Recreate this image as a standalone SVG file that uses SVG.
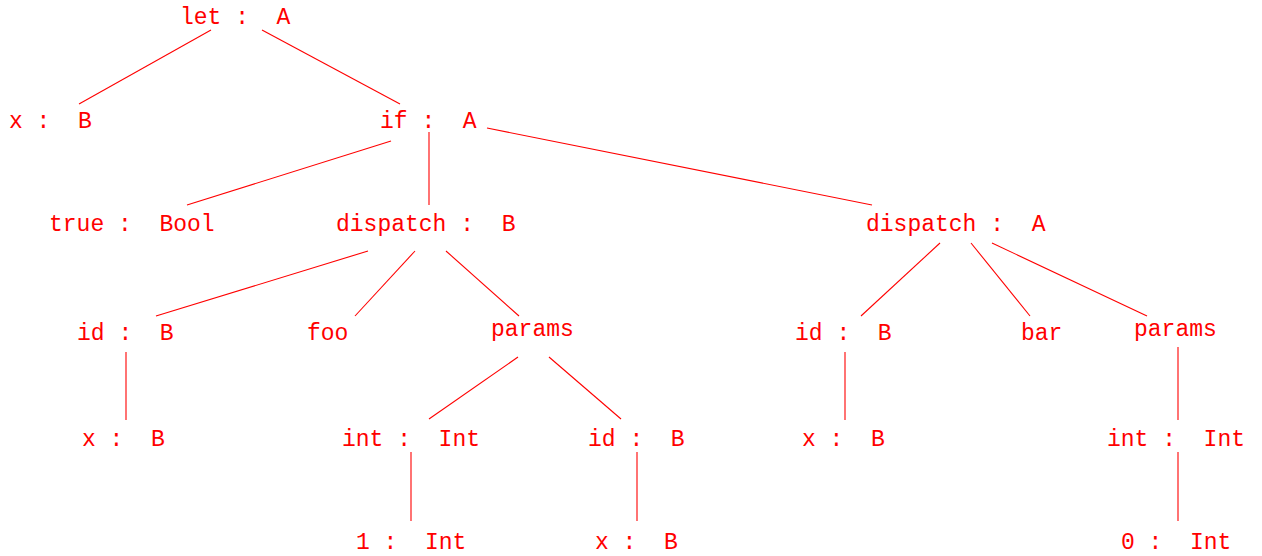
<svg xmlns="http://www.w3.org/2000/svg" width="1262" height="556" viewBox="0 0 1262 556">
<style>
text{font-family:"Liberation Mono","DejaVu Sans Mono",monospace;font-size:23px;fill:#ff0000;white-space:pre}
line{stroke:#ff0000;stroke-width:1.1}
</style>
<rect width="1262" height="556" fill="#ffffff"/>
<g id="connectors">
<line x1="211" y1="30" x2="79" y2="104"/>
<line x1="262" y1="30" x2="400" y2="104"/>
<line x1="391" y1="141" x2="187" y2="205"/>
<line x1="429" y1="132" x2="429" y2="205"/>
<line x1="487" y1="128" x2="872" y2="205"/>
<line x1="368" y1="251" x2="156" y2="316"/>
<line x1="415" y1="251" x2="355" y2="316"/>
<line x1="446" y1="251" x2="519" y2="316"/>
<line x1="518" y1="357" x2="429" y2="419"/>
<line x1="549" y1="357" x2="621" y2="419"/>
<line x1="126" y1="352" x2="126" y2="420"/>
<line x1="411" y1="452" x2="411" y2="521"/>
<line x1="637" y1="452" x2="637" y2="521"/>
<line x1="940" y1="243" x2="861" y2="316"/>
<line x1="971" y1="243" x2="1030" y2="316"/>
<line x1="992" y1="243" x2="1147" y2="316"/>
<line x1="845" y1="352" x2="845" y2="420"/>
<line x1="1178" y1="347" x2="1178" y2="420"/>
<line x1="1178" y1="452" x2="1178" y2="521"/>
</g>
<g id="n-let"><text x="180" y="24">let :  A</text></g>
<g id="n-x1"><text x="9" y="128">x :  B</text></g>
<g id="n-if"><text x="380" y="128">if :  A</text></g>
<g id="n-true"><text x="49" y="231">true :  Bool</text></g>
<g id="n-dispB"><text x="336" y="231">dispatch :  B</text></g>
<g id="n-dispA"><text x="866" y="231">dispatch :  A</text></g>
<g id="n-id1"><text x="77" y="340">id :  B</text></g>
<g id="n-foo"><text x="307" y="340">foo</text></g>
<g id="n-params1"><text x="491" y="336">params</text></g>
<g id="n-id2"><text x="795" y="340">id :  B</text></g>
<g id="n-bar"><text x="1021" y="340">bar</text></g>
<g id="n-params2"><text x="1134" y="336">params</text></g>
<g id="n-x2"><text x="82" y="446">x :  B</text></g>
<g id="n-int1"><text x="342" y="446">int :  Int</text></g>
<g id="n-id3"><text x="588" y="446">id :  B</text></g>
<g id="n-x3"><text x="802" y="446">x :  B</text></g>
<g id="n-int2"><text x="1107" y="446">int :  Int</text></g>
<g id="n-one"><text x="356" y="549">1 :  Int</text></g>
<g id="n-x4"><text x="595" y="549">x :  B</text></g>
<g id="n-zero"><text x="1121" y="549">0 :  Int</text></g>
</svg>
